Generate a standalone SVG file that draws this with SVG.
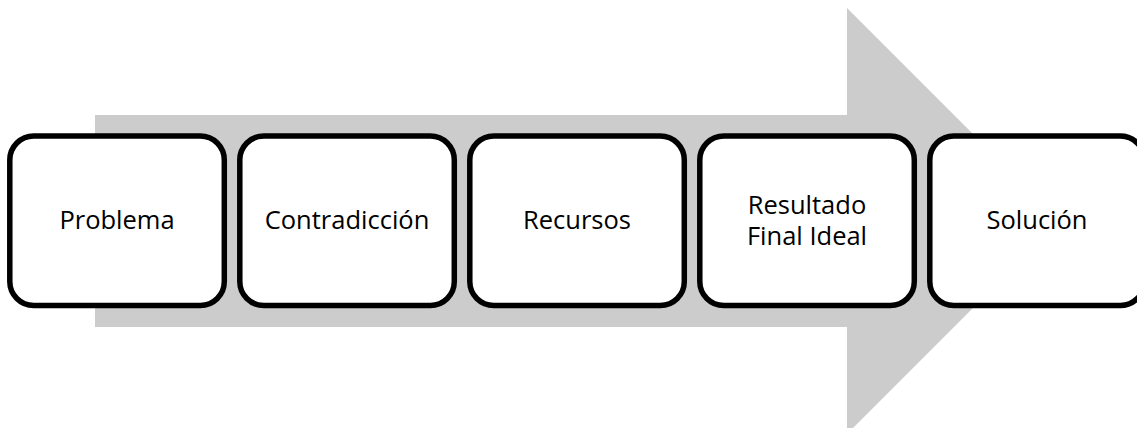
<svg xmlns="http://www.w3.org/2000/svg" width="1137" height="428" viewBox="0 0 1137 428">
<style>
.box{fill:#ffffff;stroke:#000000;stroke-width:5.5}
.lbl{font-family:"Open Sans","Liberation Sans",sans-serif;font-size:25.5px;fill:#000000;text-anchor:middle}
</style>
<rect width="1137" height="428" fill="#ffffff"/>
<g id="arrow">
<polygon points="95,115 847,115 847,8 1060,221 847,434 847,327 95,327" fill="#cccccc"/>
</g>
<g id="connectors"></g>
<g id="n1">
<rect class="box" x="9.8" y="136" width="214.5" height="169.5" rx="24" ry="24"/>
<text class="lbl" x="117" y="228.5">Problema</text>
</g>
<g id="n2">
<rect class="box" x="239.8" y="136" width="214.5" height="169.5" rx="24" ry="24"/>
<text class="lbl" x="347" y="228.5">Contradicción</text>
</g>
<g id="n3">
<rect class="box" x="469.8" y="136" width="214.5" height="169.5" rx="24" ry="24"/>
<text class="lbl" x="577" y="228.5">Recursos</text>
</g>
<g id="n4">
<rect class="box" x="699.8" y="136" width="214.5" height="169.5" rx="24" ry="24"/>
<text class="lbl" x="807" y="213.5">Resultado</text>
<text class="lbl" x="807" y="245">Final Ideal</text>
</g>
<g id="n5">
<rect class="box" x="929.8" y="136" width="214.5" height="169.5" rx="24" ry="24"/>
<text class="lbl" x="1037" y="228.5">Solución</text>
</g>
</svg>
